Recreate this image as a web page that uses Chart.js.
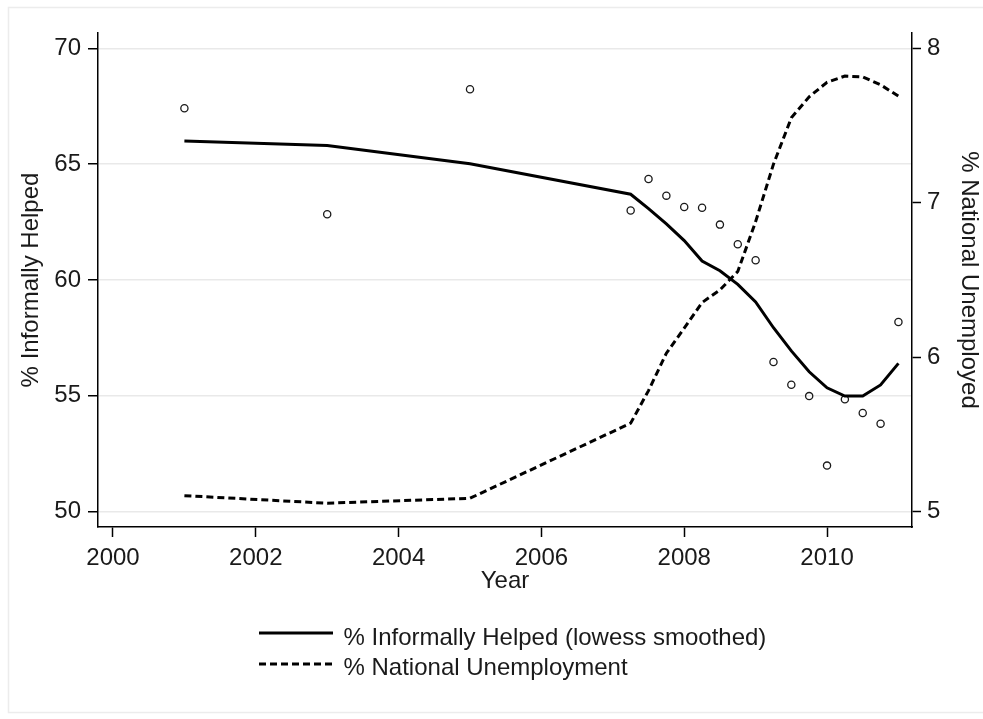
<!DOCTYPE html>
<html>
<head>
<meta charset="utf-8">
<script src="https://cdn.jsdelivr.net/npm/chart.js@4"></script>
<style>
html,body{margin:0;padding:0;background:#fff;}
#wrap{position:relative;width:983px;height:719px;}
</style>
</head>
<body>
<div id="wrap"><canvas id="c"></canvas></div>
<script>
// ---- data ----
const years = [2001, 2003, 2005, 2007.25, 2007.5, 2007.75, 2008, 2008.25, 2008.5, 2008.75, 2009, 2009.25, 2009.5, 2009.75, 2010, 2010.25, 2010.5, 2010.75, 2011];
const helpedPct = [67.41, 62.84, 68.23, 63.0, 64.36, 63.64, 63.15, 63.12, 62.39, 61.54, 60.85, 56.46, 55.48, 54.99, 51.99, 54.85, 54.26, 53.8, 58.19];
const helpedLowess = [66.0, 65.8, 65.02, 63.7, 63.08, 62.42, 61.7, 60.82, 60.4, 59.81, 59.05, 57.94, 56.94, 56.04, 55.35, 54.99, 54.99, 55.47, 56.4];
const unemploymentPct = [5.104, 5.055, 5.087, 5.573, 5.784, 6.026, 6.188, 6.354, 6.436, 6.555, 6.878, 7.25, 7.55, 7.686, 7.78, 7.82, 7.815, 7.764, 7.69];
const xTickValues = [2000, 2002, 2004, 2006, 2008, 2010];
const leftTickValues = [50, 55, 60, 65, 70];
const rightTickValues = [5, 6, 7, 8];
const seriesLabels = ['% Informally Helped', '% Informally Helped (lowess smoothed)', '% National Unemployment'];
const axisTitles = {x: 'Year', left: '% Informally Helped', right: '% National Unemployed'};

const pts = (ys) => years.map((x, i) => ({x: x, y: ys[i]}));

Chart.defaults.font.family = '"Liberation Sans", Arial, sans-serif';
Chart.defaults.font.size = 24;
Chart.defaults.color = '#1a1a1a';

const frame = {
  id: 'frame',
  beforeDraw(chart) {
    const ctx = chart.ctx;
    ctx.save();
    ctx.fillStyle = '#fff';
    ctx.fillRect(0, 0, chart.width, chart.height);
    ctx.strokeStyle = '#ececec';
    ctx.lineWidth = 1.5;
    ctx.strokeRect(8.5, 7.5, chart.width + 10, chart.height - 14);
    ctx.restore();
  }
};

const stataLegend = {
  id: 'stataLegend',
  afterDraw(chart) {
    const ctx = chart.ctx;
    const items = chart.data.datasets.filter(d => d.inLegend);
    const x0 = 259, x1 = 333, tx = 343.5;
    const lineY = [633, 664];
    const textY = [645, 675];
    ctx.save();
    ctx.font = '24px "Liberation Sans", Arial, sans-serif';
    ctx.fillStyle = '#1a1a1a';
    ctx.textBaseline = 'alphabetic';
    ctx.textAlign = 'left';
    items.forEach((d, i) => {
      ctx.beginPath();
      ctx.setLineDash(d.borderDash || []);
      ctx.strokeStyle = d.borderColor;
      ctx.lineWidth = d.borderWidth;
      ctx.moveTo(x0, lineY[i]);
      ctx.lineTo(x1, lineY[i]);
      ctx.stroke();
      ctx.setLineDash([]);
      ctx.fillText(d.label, tx, textY[i]);
    });
    ctx.restore();
  }
};

new Chart(document.getElementById('c'), {
  type: 'scatter',
  data: {
    datasets: [
      {
        label: seriesLabels[0],
        data: pts(helpedPct),
        yAxisID: 'yL',
        showLine: false,
        pointRadius: 3.6,
        pointBorderWidth: 1.3,
        pointBorderColor: '#1a1a1a',
        pointBackgroundColor: 'rgba(255,255,255,0)',
        order: 3
      },
      {
        label: seriesLabels[1],
        data: pts(helpedLowess),
        yAxisID: 'yL',
        showLine: true,
        inLegend: true,
        borderColor: '#000',
        borderWidth: 3,
        pointRadius: 0,
        tension: 0,
        order: 2
      },
      {
        label: seriesLabels[2],
        data: pts(unemploymentPct),
        yAxisID: 'yR',
        showLine: true,
        inLegend: true,
        borderColor: '#000',
        borderWidth: 3,
        borderDash: [7, 4],
        pointRadius: 0,
        tension: 0,
        order: 1
      }
    ]
  },
  options: {
    responsive: true,
    maintainAspectRatio: false,
    animation: false,
    layout: {padding: {top: 33, bottom: 123, left: 0, right: 0}},
    plugins: {legend: {display: false}, tooltip: {enabled: false}},
    scales: {
      x: {
        type: 'linear', position: 'bottom',
        min: 1999.79, max: 2011.19,
        afterBuildTicks: s => { s.ticks = xTickValues.map(v => ({value: v})); },
        afterFit: s => { s.height = 69; },
        border: {color: '#000', width: 1.5},
        grid: {drawOnChartArea: false, tickColor: '#000', tickLength: 10, tickWidth: 1.5},
        ticks: {padding: 7, maxRotation: 0, autoSkip: false, callback: v => String(v)},
        title: {display: true, text: axisTitles.x, padding: 0}
      },
      yL: {
        type: 'linear', position: 'left',
        min: 49.34, max: 70.66,
        afterBuildTicks: s => { s.ticks = leftTickValues.map(v => ({value: v})); },
        afterFit: s => { s.width = 98; },
        border: {color: '#000', width: 1.5},
        grid: {color: '#e9e9e9', lineWidth: 1.5, tickColor: '#000', tickLength: 10, tickWidth: 1.5},
        ticks: {padding: 7, autoSkip: false, callback: v => String(v)},
        title: {display: true, text: axisTitles.left, padding: {top: 17, bottom: 0}}
      },
      yR: {
        type: 'linear', position: 'right',
        min: 4.901, max: 8.099,
        afterBuildTicks: s => { s.ticks = rightTickValues.map(v => ({value: v})); },
        afterFit: s => { s.width = 71; },
        border: {color: '#000', width: 1.5},
        grid: {drawOnChartArea: false, tickColor: '#000', tickLength: 9, tickWidth: 1.5},
        ticks: {padding: 6, autoSkip: false, callback: v => String(v)},
        title: {display: true, text: axisTitles.right, padding: {top: 0, bottom: 0}}
      }
    }
  },
  plugins: [frame, stataLegend]
});
</script>
</body>
</html>
